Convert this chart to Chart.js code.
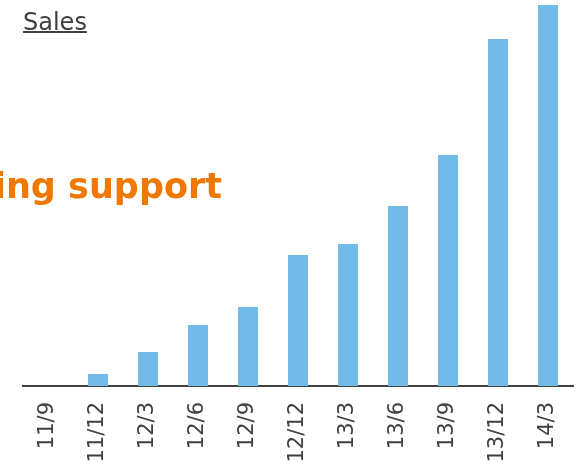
<!DOCTYPE html>
<html>
<head>
<meta charset="utf-8">
<script src="https://cdn.jsdelivr.net/npm/chart.js@4/dist/chart.umd.min.js"></script>
<style>
  html, body { margin: 0; padding: 0; background: #fff; }
  #chart { display: block; }
</style>
</head>
<body>
<canvas id="chart" width="579" height="466"></canvas>
<script>
// quarters (yy/m)
const quarters = ["11/9", "11/12", "12/3", "12/6", "12/9", "12/12", "13/3", "13/6", "13/9", "13/12", "14/3"];
// sales (relative units)
const sales = [0, 12, 34, 61, 79, 131, 142, 180, 231, 347, 381];

const titleText = "Sales";
const noteText = "ing support";

// draws the underlined title and the orange note
const textPlugin = {
    id: "texts",
    afterDraw(chart) {
        const ctx = chart.ctx;
        ctx.save();
        ctx.font = "24px 'DejaVu Sans'";
        ctx.fillStyle = "#404040";
        ctx.textAlign = "left";
        ctx.textBaseline = "alphabetic";
        ctx.fillText(titleText, 23, 30);
        const w = ctx.measureText(titleText).width;
        ctx.fillRect(23, 31, w, 2);

        ctx.font = "bold 35px 'DejaVu Sans'";
        ctx.fillStyle = "#f07800";
        ctx.textAlign = "right";
        ctx.fillText(noteText, 222, 198);
        ctx.restore();
    }
};

new Chart(document.getElementById("chart").getContext("2d"), {
    type: "bar",
    data: {
        labels: quarters,
        datasets: [{
            label: titleText,
            data: sales,
            backgroundColor: "#72bbe9",
            barPercentage: 0.4,
            categoryPercentage: 1.0
        }]
    },
    options: {
        responsive: false,
        animation: false,
        layout: { padding: { left: 23, right: 6, top: 5, bottom: 0 } },
        plugins: {
            legend: { display: false },
            tooltip: { enabled: false }
        },
        scales: {
            x: {
                grid: { display: false, drawTicks: false },
                border: { display: true, color: "#404040", width: 2 },
                ticks: {
                    color: "#404040",
                    font: { family: "DejaVu Sans", size: 21 },
                    minRotation: 90,
                    maxRotation: 90,
                    padding: 16
                },
                afterFit(scale) {
                    scale.height = 80;
                    scale.paddingLeft = 0;
                    scale.paddingRight = 0;
                }
            },
            y: {
                display: false,
                min: 0,
                max: 381
            }
        }
    },
    plugins: [textPlugin]
});
</script>
</body>
</html>
